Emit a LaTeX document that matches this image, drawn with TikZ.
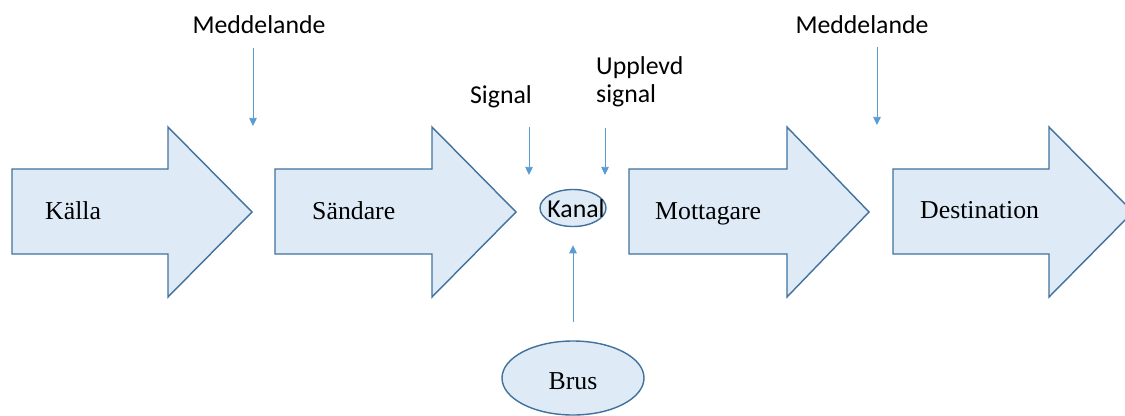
\documentclass[tikz,border=0pt]{standalone}
\usepackage{fontspec}
\setmainfont{Liberation Serif}
\newfontfamily\calibri{Carlito}
\usepackage{xcolor}
\usetikzlibrary{arrows.meta}
\usetikzlibrary{shapes.geometric}
\definecolor{boxfill}{RGB}{222,235,247}
\definecolor{boxline}{RGB}{65,113,156}
\definecolor{linkblue}{RGB}{91,155,213}
\tikzset{every edge/.style={draw, linkblue, line width=0.8pt},
  >={Triangle[length=7pt, width=6.5pt]},
  blockarrow/.style={draw=boxline, fill=boxfill, line width=1.2pt, line join=miter},
  word/.style={inner sep=0pt, font=\fontsize{22}{26}\selectfont},
  tag/.style={inner sep=0pt, font=\calibri\fontsize{22}{23.8}\selectfont},
  channel/.style={ellipse, draw=boxline, fill=boxfill, line width=1.2pt, inner sep=0pt}}
% left end, head base, tip
\newcommand{\blockarrow}[3]{%
  \draw[blockarrow] (#1,169) -- (#2,169) -- (#2,127) -- (#3,212)
    -- (#2,297) -- (#2,254) -- (#1,254) -- cycle;}

\begin{document}
\begin{tikzpicture}[x=0.03cm, y=-0.03cm]
  \useasboundingbox (0,0) rectangle (1125,415);
  \clip (0,0) rectangle (1125,415);

  \blockarrow{12}{168}{252}
  \blockarrow{275}{432}{516}
  \blockarrow{629}{787}{869}
  \blockarrow{893}{1049}{1133}

  \node[word, anchor=base west] at (45, 219) (src) {Källa};
  \node[word, anchor=base west] at (312, 219) (sender) {Sändare};
  \node[word, anchor=base west] at (655, 219) (receiver) {Mottagare};
  \node[word, anchor=base west] at (920, 218) (dest) {Destination};

  \node[channel, minimum width=1.98cm, minimum height=1.11cm] at (573, 208) (kanal) {};
  \node[tag, anchor=base] at (576, 217) (kanaltext) {Kanal};
  \node[channel, minimum width=4.26cm, minimum height=2.22cm, word, text height=0.72cm] at (573, 378) (brus) {Brus};

  \node[tag, anchor=base] at (259, 33) (msg1) {Meddelande};
  \node[tag, anchor=base] at (862, 33) (msg2) {Meddelande};
  \node[tag, anchor=base] at (501, 103) (sig) {Signal};
  \node[tag, anchor=north west, align=left] at (596, 56) (upp) {Upplevd\\signal};

  \coordinate (m1a) at (253, 48);
  \coordinate (m1b) at (253, 126);
  \coordinate (m2a) at (877, 47);
  \coordinate (m2b) at (877, 125);
  \coordinate (s1a) at (529, 127);
  \coordinate (s1b) at (529, 175);
  \coordinate (s2a) at (605, 128);
  \coordinate (s2b) at (605, 175);

  \draw (m1a) edge[->] (m1b);
  \draw (m2a) edge[->] (m2b);
  \draw (s1a) edge[->] (s1b);
  \draw (s2a) edge[->] (s2b);
  \draw (brus) edge[->, shorten <=0.54cm, shorten >=0.54cm] (kanal);
\end{tikzpicture}
\end{document}
